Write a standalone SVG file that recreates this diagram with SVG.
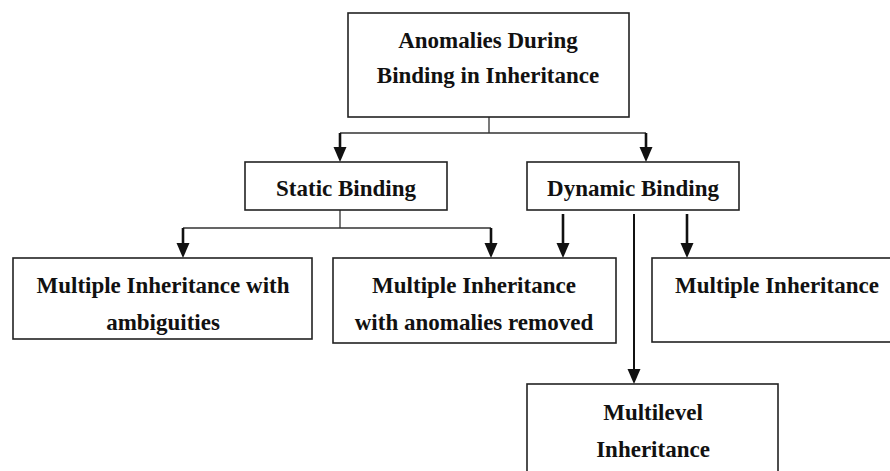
<svg xmlns="http://www.w3.org/2000/svg" width="890" height="471" viewBox="0 0 890 471">
  <style>
    .box { fill: #ffffff; stroke: #222222; stroke-width: 1.6; }
    .label { font-family: "Liberation Serif", "Times New Roman", serif; font-weight: bold; font-size: 23px; fill: #111111; text-anchor: middle; }
    .thin { fill: none; stroke: #333333; stroke-width: 1.3; }
    .shaft { fill: none; stroke: #111111; stroke-width: 2.6; marker-end: url(#head); }
    .long { fill: none; stroke: #111111; stroke-width: 2; marker-end: url(#head); }
  </style>
  <defs>
    <marker id="head" markerUnits="userSpaceOnUse" markerWidth="16" markerHeight="14" viewBox="0 -7 16 14" refX="7" refY="0" orient="auto">
      <path d="M0,-6.5 L15,0 L0,6.5 z" fill="#111111"/>
    </marker>
  </defs>
  <rect width="890" height="471" fill="#ffffff"/>

  <!-- connectors -->
  <g id="connectors">
    <path class="thin" d="M489,117 V133 M340,133 H646"/>
    <path class="shaft" d="M340,133 V154"/>
    <path class="shaft" d="M646,133 V154"/>
    <path class="thin" d="M340,210 V228 M183,228 H491"/>
    <path class="shaft" d="M183,228 V250"/>
    <path class="shaft" d="M491,228 V250"/>
    <path class="shaft" d="M563,214 V250"/>
    <path class="shaft" d="M687,214 V250"/>
    <path class="long" d="M634,214 V376"/>
  </g>

  <g id="node-root">
    <rect class="box" x="348" y="13" width="281" height="104"/>
    <text class="label" x="488" y="48">Anomalies During</text>
    <text class="label" x="488" y="83">Binding in Inheritance</text>
  </g>

  <g id="node-static">
    <rect class="box" x="245" y="162" width="202" height="48"/>
    <text class="label" x="346" y="196">Static Binding</text>
  </g>

  <g id="node-dynamic">
    <rect class="box" x="527" y="162" width="212" height="48"/>
    <text class="label" x="633" y="196">Dynamic Binding</text>
  </g>

  <g id="node-ambiguities">
    <rect class="box" x="13" y="258" width="299" height="81"/>
    <text class="label" x="163" y="293">Multiple Inheritance with</text>
    <text class="label" x="163" y="330">ambiguities</text>
  </g>

  <g id="node-removed">
    <rect class="box" x="333" y="258" width="283" height="85"/>
    <text class="label" x="474" y="293">Multiple Inheritance</text>
    <text class="label" x="474" y="330">with anomalies removed</text>
  </g>

  <g id="node-multiple">
    <rect class="box" x="652" y="258" width="260" height="84"/>
    <text class="label" x="777" y="293">Multiple Inheritance</text>
  </g>

  <g id="node-multilevel">
    <rect class="box" x="527" y="384" width="251" height="100"/>
    <text class="label" x="653" y="420">Multilevel</text>
    <text class="label" x="653" y="457">Inheritance</text>
  </g>
</svg>
